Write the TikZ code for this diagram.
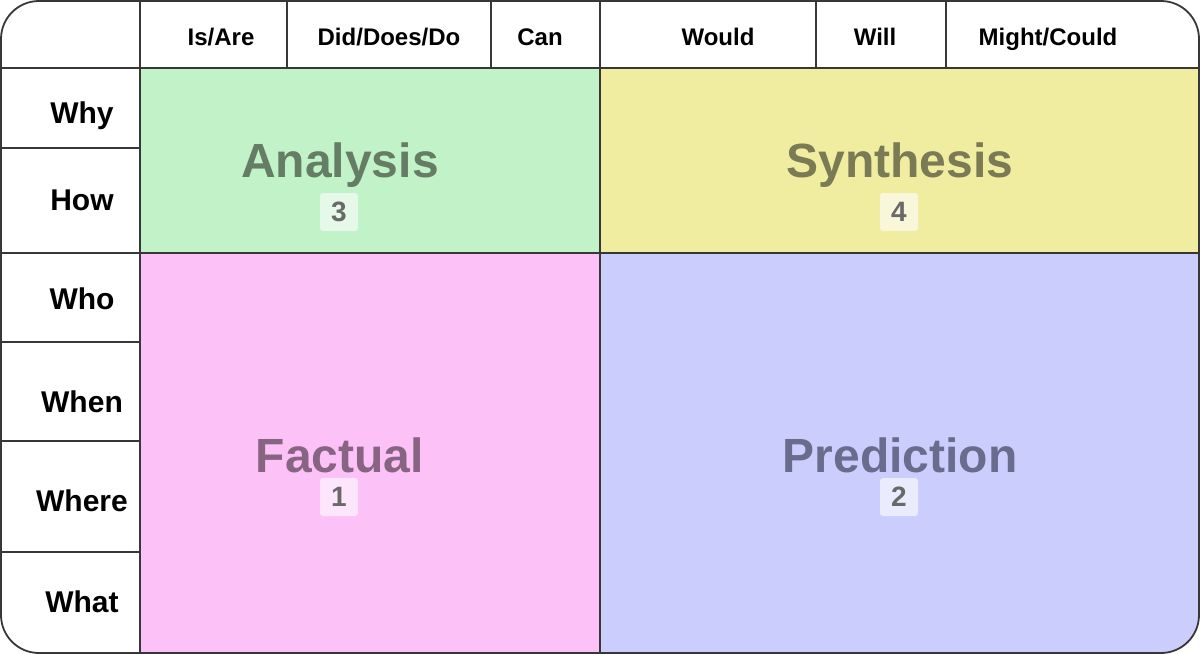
\documentclass[tikz,border=0pt]{standalone}
\usepackage{fontspec}
\setmainfont{Liberation Sans}
\usepackage{xcolor}
\usetikzlibrary{positioning}
\definecolor{anagreen}{RGB}{193,242,200}
\definecolor{synyellow}{RGB}{240,236,160}
\definecolor{factpink}{RGB}{252,194,248}
\definecolor{predblue}{RGB}{203,206,252}
\definecolor{anatext}{RGB}{100,125,100}
\definecolor{syntext}{RGB}{122,122,85}
\definecolor{facttext}{RGB}{135,100,130}
\definecolor{predtext}{RGB}{105,108,140}
\definecolor{badgetext}{RGB}{105,105,105}
\definecolor{gridline}{RGB}{55,55,55}
\tikzset{
	head/.style={anchor=base,font=\fontsize{24}{28}\selectfont\bfseries},
	rowlab/.style={anchor=base,font=\fontsize{30}{34}\selectfont\bfseries},
	quadlab/.style={anchor=base,font=\fontsize{48}{54}\selectfont\bfseries},
	badge/.style={fill=white,fill opacity=0.6,text opacity=1,rounded corners=3pt,
		minimum size=38pt,inner sep=0pt,text=badgetext,font=\fontsize{28}{32}\selectfont\bfseries},
	gridl/.style={draw=gridline,line width=1.2pt}
}
\begin{document}
\begin{tikzpicture}[x=1pt,y=-1pt]
	\useasboundingbox (0,0) rectangle (1200,654);
	% the four quadrants
	\begin{scope}
		\clip[rounded corners=38pt] (1,1) rectangle (1199,653);
		\fill[anagreen] (140,68) rectangle (600,253);
		\fill[synyellow] (600,68) rectangle (1200,253);
		\fill[factpink] (140,253) rectangle (600,654);
		\fill[predblue] (600,253) rectangle (1200,654);
	\end{scope}
	% grid lines
	\draw[gridl] (0,68) -- (1200,68);
	\draw[gridl] (0,253) -- (1200,253);
	\draw[gridl] (140,0) -- (140,654);
	\draw[gridl] (600,0) -- (600,654);
	\foreach \x in {287,491,816,946}
		\draw[gridl] (\x,0) -- (\x,68);
	\foreach \y in {148,342,441,552}
		\draw[gridl] (0,\y) -- (140,\y);
	\draw[gridl,line width=1.8pt,rounded corners=38pt] (1,1) rectangle (1199,653);
	% header row
	\node[head] (isare) at (221,45) {Is/Are};
	\node[head] (diddo) at (389,45) {Did/Does/Do};
	\node[head] (can) at (540,45) {Can};
	\node[head] (would) at (718,45) {Would};
	\node[head] (will) at (875,45) {Will};
	\node[head] (might) at (1048,45) {Might/Could};
	% left column
	\node[rowlab] (why) at (82,123) {Why};
	\node[rowlab] (how) at (82,210) {How};
	\node[rowlab] (who) at (82,309) {Who};
	\node[rowlab] (when) at (82,412) {When};
	\node[rowlab] (where) at (82,511) {Where};
	\node[rowlab] (what) at (82,612) {What};
	% quadrant labels
	\node[quadlab,text=anatext] (analysis) at (340,177) {Analysis};
	\node[badge] (three) at (339,212) {3};
	\node[quadlab,text=syntext] (synthesis) at (900,177) {Synthesis};
	\node[badge] (four) at (899,212) {4};
	\node[quadlab,text=facttext] (factual) at (340,472) {Factual};
	\node[badge] (one) at (339,497) {1};
	\node[quadlab,text=predtext] (prediction) at (900,472) {Prediction};
	\node[badge] (two) at (899,497) {2};
\end{tikzpicture}
\end{document}
